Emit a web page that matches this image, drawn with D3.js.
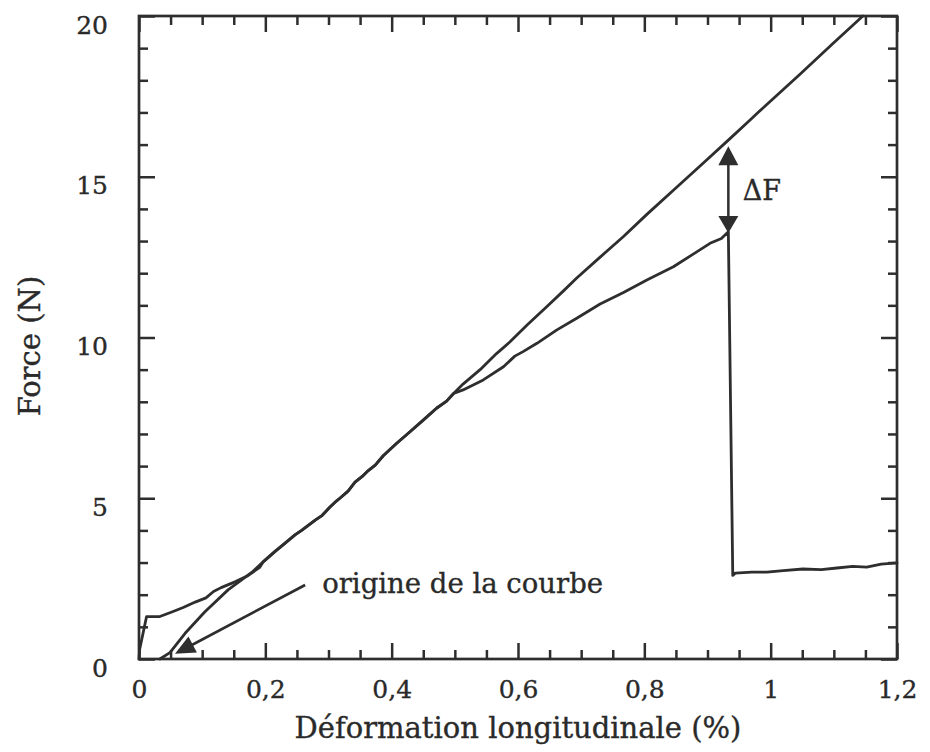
<!DOCTYPE html>
<html>
<head>
<meta charset="utf-8">
<script src="https://cdn.jsdelivr.net/npm/d3@7"></script>
<style>
  html, body { margin: 0; padding: 0; background: #fff; }
  svg { display: block; }
  svg text { font-family: "DejaVu Serif", serif; fill: #2a2a2a; stroke: #2a2a2a; stroke-width: 0.35px; }
</style>
</head>
<body>
<svg id="chart" width="930" height="752"></svg>
<script>
// Axis ticks and their labels (French decimal comma)
const xMajorTicks = [0, 0.2, 0.4, 0.6, 0.8, 1, 1.2];
const xTickLabels = ["0", "0,2", "0,4", "0,6", "0,8", "1", "1,2"];
const xMinorTicks = [0.05, 0.1, 0.15, 0.25, 0.3, 0.35, 0.45, 0.5, 0.55, 0.65, 0.7, 0.75,
                     0.85, 0.9, 0.95, 1.05, 1.1, 1.15];
const yMajorTicks = [0, 5, 10, 15, 20];
const yTickLabels = ["0", "5", "10", "15", "20"];
const yMinorTicks = [1, 2, 3, 4, 6, 7, 8, 9, 11, 12, 13, 14, 16, 17, 18, 19];

// Curves: [déformation (%), force (N)]
// Start of the reference line (from the curve origin)
const droiteDebut = [[0.033, 0], [0.049, 0.2], [0.073, 0.8], [0.104, 1.46], [0.141, 2.15],
                     [0.179, 2.7], [0.197, 3.03]];
// Start of the test curve
const essaiDebut = [[0, 0], [0.001, 0.3], [0.012, 1.32], [0.033, 1.32], [0.052, 1.46],
                    [0.07, 1.6], [0.089, 1.77], [0.106, 1.9], [0.118, 2.1], [0.130, 2.22],
                    [0.152, 2.4], [0.173, 2.6], [0.191, 2.85], [0.197, 3.03]];
// Section shared by both curves
const troncCommun = [[0.197, 3.03], [0.215, 3.34], [0.228, 3.55], [0.247, 3.86], [0.258, 4.01],
                     [0.279, 4.32], [0.289, 4.45], [0.302, 4.72], [0.310, 4.87], [0.318, 5.0],
                     [0.331, 5.22], [0.342, 5.5], [0.353, 5.67], [0.363, 5.86], [0.374, 6.03],
                     [0.387, 6.33], [0.408, 6.71], [0.429, 7.07], [0.450, 7.43], [0.471, 7.8],
                     [0.487, 8.02], [0.498, 8.26]];
// Reference line continues straight up
const droiteFin = [[0.513, 8.55], [0.540, 9.0], [0.566, 9.5], [0.587, 9.86], [0.614, 10.38],
                   [0.645, 10.95], [0.672, 11.45], [0.693, 11.85], [0.730, 12.5], [0.767, 13.14],
                   [0.804, 13.83], [0.846, 14.58], [0.893, 15.42], [0.933, 16.14], [0.967, 16.76],
                   [0.980, 17.0], [1.046, 18.18], [1.099, 19.15], [1.146, 20.0]];
// Test curve bends away, breaks, then settles
const essaiFin = [[0.513, 8.37], [0.545, 8.68], [0.577, 9.09], [0.595, 9.42], [0.608, 9.56],
                  [0.630, 9.82], [0.661, 10.23], [0.693, 10.6], [0.730, 11.04], [0.767, 11.4],
                  [0.804, 11.79], [0.846, 12.2], [0.878, 12.6], [0.904, 12.93], [0.922, 13.08],
                  [0.933, 13.29], [0.940, 2.6], [0.944, 2.67], [0.97, 2.7], [0.994, 2.7],
                  [1.02, 2.75], [1.051, 2.8], [1.08, 2.78], [1.105, 2.83], [1.13, 2.88],
                  [1.152, 2.86], [1.175, 2.95], [1.2, 2.99]];

// ΔF annotation: x position and the two forces it spans
const deltaX = 0.933;
const deltaHaut = 15.95;
const deltaBas = 13.25;
// "origine de la courbe" pointer: tail and tip
const origineQueue = [0.263, 2.3];
const origineTete = [0.057, 0.16];

const ink = "#2e2e2e";
const svg = d3.select("#chart");
const W = 930, H = 752;
const margin = { left: 139, top: 16, right: 33, bottom: 93 };
const iw = W - margin.left - margin.right;
const ih = H - margin.top - margin.bottom;

const x = d3.scaleLinear().domain([0, 1.2]).range([0, iw]);
const y = d3.scaleLinear().domain([0, 20]).range([ih, 0]);

const g = svg.append("g").attr("transform", `translate(${margin.left},${margin.top})`);

// Inward ticks on all four sides
function styleAxis(sel) {
  sel.select(".domain").remove();
  sel.selectAll(".tick line").attr("stroke", ink).attr("stroke-width", 2.5);
}
const majorLen = 16, minorLen = 9;

g.append("g").attr("transform", `translate(0,${ih})`)
  .call(d3.axisBottom(x).tickValues(xMajorTicks).tickSize(-majorLen)
        .tickFormat((d, i) => xTickLabels[i]))
  .call(styleAxis)
  .call(s => s.selectAll("text").attr("y", 39).attr("dy", 0).attr("font-size", 25));
g.append("g").attr("transform", `translate(0,${ih})`)
  .call(d3.axisBottom(x).tickValues(xMinorTicks).tickSize(-minorLen).tickFormat(""))
  .call(styleAxis);
g.append("g")
  .call(d3.axisTop(x).tickValues(xMajorTicks).tickSize(-majorLen).tickFormat(""))
  .call(styleAxis);
g.append("g")
  .call(d3.axisTop(x).tickValues(xMinorTicks).tickSize(-minorLen).tickFormat(""))
  .call(styleAxis);

g.append("g")
  .call(d3.axisLeft(y).tickValues(yMajorTicks).tickSize(-majorLen)
        .tickFormat((d, i) => yTickLabels[i]))
  .call(styleAxis)
  .call(s => s.selectAll("text").attr("x", -31).attr("y", 17).attr("dy", 0).attr("font-size", 25));
g.append("g")
  .call(d3.axisLeft(y).tickValues(yMinorTicks).tickSize(-minorLen).tickFormat(""))
  .call(styleAxis);
g.append("g").attr("transform", `translate(${iw},0)`)
  .call(d3.axisRight(y).tickValues(yMajorTicks).tickSize(-majorLen).tickFormat(""))
  .call(styleAxis);
g.append("g").attr("transform", `translate(${iw},0)`)
  .call(d3.axisRight(y).tickValues(yMinorTicks).tickSize(-minorLen).tickFormat(""))
  .call(styleAxis);

// Plot frame
g.append("rect").attr("x", 0).attr("y", 0).attr("width", iw).attr("height", ih)
  .attr("fill", "none").attr("stroke", ink).attr("stroke-width", 2.7);

// Curves
const line = d3.line().x(d => x(d[0])).y(d => y(d[1]));
const courbes = [
  droiteDebut.concat(troncCommun, droiteFin),
  essaiDebut.concat(troncCommun, essaiFin)
];
g.selectAll("path.courbe").data(courbes).join("path")
  .attr("class", "courbe")
  .attr("d", line)
  .attr("fill", "none")
  .attr("stroke", ink)
  .attr("stroke-width", 2.8)
  .attr("stroke-linejoin", "round")
  .attr("stroke-linecap", "round");

// Filled arrowhead with tip at (tx, ty) pointing along (ux, uy)
function arrowHead(tx, ty, ux, uy, len, half) {
  const bx = tx - ux * len, by = ty - uy * len;
  const px = -uy, py = ux;
  return `M${tx},${ty}L${bx + px * half},${by + py * half}L${bx - px * half},${by - py * half}Z`;
}

// ΔF double arrow
const dx = x(deltaX), dTop = y(deltaHaut), dBot = y(deltaBas);
g.append("line").attr("x1", dx).attr("x2", dx).attr("y1", dTop + 4).attr("y2", dBot - 4)
  .attr("stroke", ink).attr("stroke-width", 2.5);
g.append("path").attr("d", arrowHead(dx, dTop, 0, -1, 19, 10)).attr("fill", ink);
g.append("path").attr("d", arrowHead(dx, dBot, 0, 1, 17, 10)).attr("fill", ink);
g.append("text").attr("x", x(0.956)).attr("y", y(14.28))
  .attr("font-size", 27).text("ΔF");

// Pointer to the curve origin
const qx = x(origineQueue[0]), qy = y(origineQueue[1]);
const hx = x(origineTete[0]), hy = y(origineTete[1]);
const L = Math.hypot(hx - qx, hy - qy);
const ux = (hx - qx) / L, uy = (hy - qy) / L;
g.append("line").attr("x1", qx).attr("y1", qy).attr("x2", hx - ux * 10).attr("y2", hy - uy * 10)
  .attr("stroke", ink).attr("stroke-width", 2.7);
g.append("path").attr("d", arrowHead(hx, hy, ux, uy, 20, 9)).attr("fill", ink);
g.append("text").attr("x", x(0.29)).attr("y", y(2.05))
  .attr("font-size", 27.5).text("origine de la courbe");

// Axis titles
svg.append("text").attr("x", margin.left + iw / 2).attr("y", 738)
  .attr("text-anchor", "middle").attr("font-size", 29)
  .text("Déformation longitudinale (%)");
svg.append("text")
  .attr("transform", `translate(40,${346}) rotate(-90)`)
  .attr("text-anchor", "middle").attr("font-size", 29)
  .text("Force (N)");
</script>
</body>
</html>
